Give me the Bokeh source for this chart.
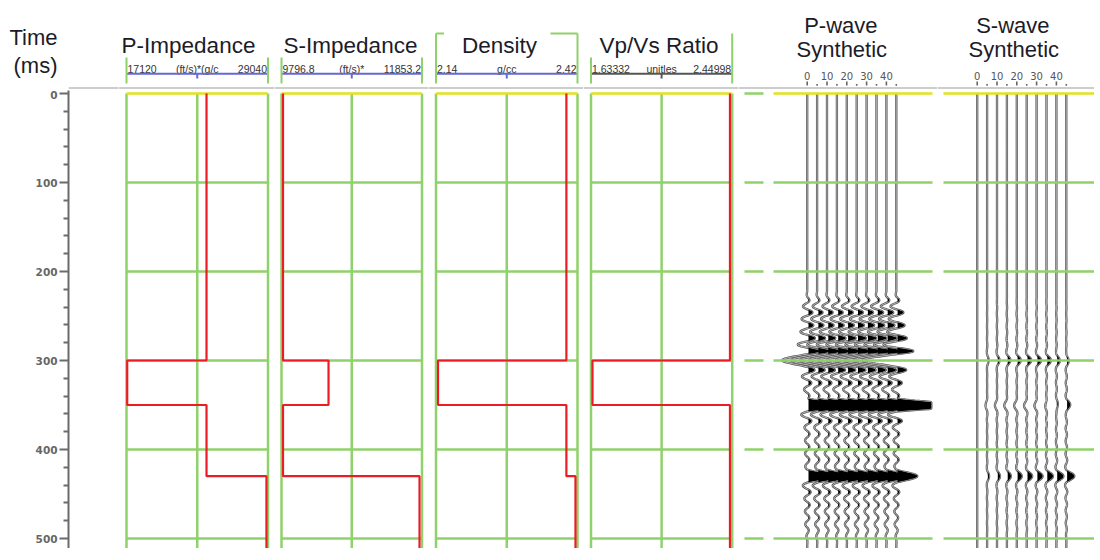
import numpy as np
from bokeh.plotting import figure
from bokeh.layouts import row, column
from bokeh.models import Range1d, FixedTicker, Span
from bokeh.embed import file_html
from bokeh.resources import INLINE
from bokeh.core.properties import value

# ---------------- data ----------------
layer_top = [0, 300, 350, 430]
layer_base = [300, 350, 430, 520]
p_impedance = [23860, 17180, 23860, 28910]
s_impedance = [9819.0, 10485.0, 9819.0, 11817.0]
density = [2.398, 2.144, 2.398, 2.416]
vp_vs = [2.437, 1.642, 2.437, 2.437]

track_titles = ["P-Impedance", "S-Impedance", "Density", "Vp/Vs Ratio"]
scale_min = [17120, 9796.8, 2.14, 1.63332]
scale_max = [29040, 11853.2, 2.42, 2.44998]
scale_min_text = ["17120", "9796.8", "2.14", "1.63332"]
scale_max_text = ["29040", "11853.2", "2.42", "2.44998"]
scale_unit_text = ["(ft/s)*(g/c", "(ft/s)*", "g/cc", "unitles"]

time_major = [0, 100, 200, 300, 400, 500]
time_minor = [20, 40, 60, 80, 120, 140, 160, 180, 220, 240, 260, 280,
              320, 340, 360, 380, 420, 440, 460, 480]
time_grid = [100, 200, 300, 400, 500]
time_title = ["Time", "(ms)"]

angles = [0, 5, 10, 15, 20, 25, 30, 35, 40, 45]
angle_labels = ["0", "10", "20", "30", "40"]
angle_label_at = [0, 10, 20, 30, 40]

# reflection events: time, amplitude per angle, ringing strength before / after
event_time = [300, 350, 430]
p_amp_300 = [-0.25, -0.26, -0.27, -0.28, -0.29, -0.30, -0.31, -0.32, -0.33, -0.34]
p_amp_350 = [0.42, 0.44, 0.46, 0.48, 0.50, 0.52, 0.54, 0.56, 0.58, 0.60]
p_amp_430 = [0.24, 0.24, 0.23, 0.23, 0.23, 0.22, 0.22, 0.22, 0.21, 0.21]
p_ring_before = [1.8, 0.2, 0.25]
p_ring_after = [1.3, 0.25, 0.7]
s_amp_300 = [0.0, 0.015, 0.025, 0.035, 0.04, 0.045, 0.045, 0.045, 0.035, 0.025]
s_amp_350 = [0.0, -0.015, -0.02, -0.025, -0.025, -0.025, -0.02, -0.01, 0.015, 0.04]
s_amp_430 = [0.0, 0.02, 0.03, 0.04, 0.05, 0.055, 0.06, 0.065, 0.07, 0.08]
s_ring_before = [0.5, 0.5, 0.5]
s_ring_after = [0.6, 0.6, 0.6]

# ---------------- style ----------------
GREEN = "#8fd16b"
YELLOW = "#e2e21e"
RED = "#ec1c24"
BLUE = "#6767d6"
SEP = "#cdcdcd"
TXT = "#1c1c28"
FONT = "Liberation Sans"
HEAD_H = 90
DATA_H = 458
PX_PER_MS = 0.89
T0_OFF = 3.0

yr = Range1d(start=(DATA_H - T0_OFF) / PX_PER_MS, end=-T0_OFF / PX_PER_MS)
hyr = Range1d(start=HEAD_H, end=0)


def mkfig(w, h, xr, yrange):
    p = figure(width=w, height=h, x_range=xr, y_range=yrange, x_axis_type=None,
               y_axis_type=None, toolbar_location=None, output_backend="svg",
               min_border=0)
    p.outline_line_color = None
    p.background_fill_color = "white"
    p.border_fill_color = "white"
    return p


def sep(p):
    p.add_layout(Span(location=87.5, dimension="width", line_color=SEP, line_width=2))


def txt(p, x, y, s, size, align="center", color=TXT, font=FONT):
    p.text(x=[x], y=[y], text=[s], text_font=value(font), text_font_size=value(size),
           text_align=align, text_baseline="alphabetic", text_color=color)


columns = []

# ---- time column ----
AXIS_X = 68
ht = figure(width=118, height=HEAD_H, x_range=Range1d(0, 1), y_range=hyr, x_axis_type=None,
            toolbar_location=None, output_backend="svg", min_border=0)
ht.min_border_left = AXIS_X
ht.outline_line_color = None
ht.ygrid.visible = False
hax = ht.yaxis[0]
title_pos = [37, 65]
hax.ticker = FixedTicker(ticks=title_pos)
hax.major_label_overrides = {title_pos[0]: time_title[0], title_pos[1]: time_title[1]}
hax.major_label_text_font = FONT
hax.major_label_text_font_size = "22px"
hax.major_label_text_color = TXT
hax.major_label_standoff = 5
hax.axis_line_color = None
hax.major_tick_line_color = None
hax.minor_tick_line_color = None
sep(ht)

dt = figure(width=118, height=DATA_H, x_range=Range1d(0, 1), y_range=yr, x_axis_type=None,
            toolbar_location=None, output_backend="svg", min_border=0)
dt.min_border_left = AXIS_X
dt.outline_line_color = None
dt.ygrid.visible = False
ax = dt.yaxis[0]
ax.ticker = FixedTicker(ticks=time_major, minor_ticks=time_minor)
ax.axis_line_color = "#6b6b6b"
ax.axis_line_width = 2
ax.major_tick_line_color = "#6b6b6b"
ax.major_tick_line_width = 2
ax.major_tick_out = 9
ax.major_tick_in = 0
ax.minor_tick_line_color = "#6b6b6b"
ax.minor_tick_line_width = 2
ax.minor_tick_out = 5
ax.minor_tick_in = 0
ax.major_label_text_font = "DejaVu Sans"
ax.major_label_text_font_size = "10.5px"
ax.major_label_text_font_style = "bold"
ax.major_label_text_color = "#666666"
ax.major_label_standoff = 2
columns.append(column(ht, dt))

# ---- log tracks ----
track_px = [(118, 274, 126, 267.5, 188), (274, 428, 281, 421.5, 350),
            (428, 583, 435.5, 577, 499), (583, 738, 590.5, 731.7, 658.5)]
track_vals = [p_impedance, s_impedance, density, vp_vs]

for i in range(4):
    c0, c1, L, R, tc = track_px[i]
    vmin, vmax = scale_min[i], scale_max[i]
    s = (vmax - vmin) / (R - L)
    xr = Range1d(vmin - (L - c0) * s, vmax + (c1 - R) * s)
    px = lambda q: vmin + (q - L) * s
    vmid = (vmin + vmax) / 2.0

    h = mkfig(c1 - c0, HEAD_H, xr, hyr)
    sep(h)
    txt(h, px(tc), 45, track_titles[i], "22.5px")
    txt(h, px(L + 1), 68, scale_min_text[i], "10.5px", align="left", color="#333333")
    txt(h, vmid, 68, scale_unit_text[i], "10.5px", color="#333333")
    txt(h, px(R - 1), 68, scale_max_text[i], "10.5px", align="right", color="#333333")
    barc = "#555555" if i == 3 else BLUE
    h.line([vmin, vmax], [73.3, 73.3], line_color=barc, line_width=2)
    h.segment([vmid], [73.3], [vmid], [78], line_color=barc, line_width=2)
    top_l = 33 if i == 2 else 57
    top_r = 33 if i in (2, 3) else 57
    h.segment([vmin, vmax], [top_l, top_r], [vmin, vmax], [83, 83], line_color=GREEN, line_width=2)
    if i == 2:
        h.segment([vmin, px(R - 27)], [33, 33], [px(L + 8), vmax], [33, 33],
                  line_color=GREEN, line_width=2)

    d = mkfig(c1 - c0, DATA_H, xr, yr)
    d.segment([vmin, vmid, vmax], [0, 0, 0], [vmin, vmid, vmax], [520, 520, 520],
              line_color=GREEN, line_width=2.5)
    d.segment([vmin] * len(time_grid), time_grid, [vmax] * len(time_grid), time_grid,
              line_color=GREEN, line_width=2.5)
    d.line([vmin, vmax], [0, 0], line_color=YELLOW, line_width=2.5)
    xs, ys = [], []
    for v, a, b in zip(track_vals[i], layer_top, layer_base):
        xs += [v, v]
        ys += [a, b]
    d.line(xs, ys, line_color=RED, line_width=2.2)
    columns.append(column(h, d))

# ---- synthetics ----
t = np.arange(0.0, 512.0, 0.5)


def wavelet(tau, half, ring_before, ring_after, flat=55.0, taper=25.0, pw=0.5):
    x = tau / half
    axx = np.abs(x)
    at = np.abs(tau)
    tail = np.sin(np.pi * axx) / (np.pi * np.power(np.maximum(axx, 1e-9), pw))
    env = np.where(at < flat, 1.0,
                   np.where(at < flat + taper, 0.5 * (1 + np.cos(np.pi * (at - flat) / taper)), 0.0))
    ring = np.where(tau < 0, ring_before, ring_after)
    return np.where(axx < 1, np.sinc(x), ring * tail * env)


PPD = 1.98  # px per degree
GAIN = 100.0 / PPD

synth = [
    ("P-wave", 738, 937, 806.7, [p_amp_300, p_amp_350, p_amp_430], p_ring_before, p_ring_after,
     7.2, [(744, 763, True), (773, 932, False)], 17.0, 1.3, 35.0),
    ("S-wave", 937, 1094, 976.7, [s_amp_300, s_amp_350, s_amp_430], s_ring_before, s_ring_after,
     7.0, [(943, 1094, False)], 18.0, 0.8, 35.0),
]

for name, c0, c1, x0px, amps, rb, ra, half, hl, tcen, bias_px, clip_px in synth:
    xr = Range1d((c0 - x0px) / PPD, (c1 - x0px) / PPD)
    px = lambda q: (q - x0px) / PPD
    bias = bias_px / PPD
    clip = clip_px / PPD
    h = mkfig(c1 - c0, HEAD_H, xr, hyr)
    sep(h)
    txt(h, tcen, 25, name, "22px")
    txt(h, tcen + 0.5, 49, "Synthetic", "22px")
    h.text(x=angle_label_at, y=[75] * len(angle_label_at), text=angle_labels,
           text_font=value("DejaVu Sans"), text_font_size=value("10px"),
           text_align="center", text_baseline="alphabetic", text_color="#555555")
    major = [a for a in angles if a in angle_label_at]
    minor = [a for a in angles if a not in angle_label_at]
    h.segment(major, [81] * len(major), major, [85] * len(major), line_color="#666666", line_width=1.6)
    h.segment(minor, [83.5] * len(minor), minor, [85.3] * len(minor), line_color="#666666", line_width=1.6)

    d = mkfig(c1 - c0, DATA_H, xr, yr)
    for k, ang in enumerate(angles):
        a = np.zeros_like(t)
        for e, te in enumerate(event_time):
            a += amps[e][k] * wavelet(t - te, half, rb[e], ra[e])
        disp = np.clip(GAIN * a, -1.2 * clip, clip)
        xs = ang + disp
        d.line(xs, t, line_color="#555555", line_width=2.3)
        d.line(xs, t, line_color="white", line_width=0.6)
        d.harea(x1=np.full_like(t, ang + bias), x2=np.maximum(xs, ang + bias), y=t,
                fill_color="black")
    for (a0, a1, dash) in hl:
        col0 = GREEN if dash else YELLOW
        d.line([px(a0), px(a1)], [0, 0], line_color=col0, line_width=2.5)
        d.segment([px(a0)] * len(time_grid), time_grid, [px(a1)] * len(time_grid), time_grid,
                  line_color=GREEN, line_width=2.5)
    columns.append(column(h, d))

layout = row(*columns)
open("out.html", "w").write(file_html(layout, INLINE))
